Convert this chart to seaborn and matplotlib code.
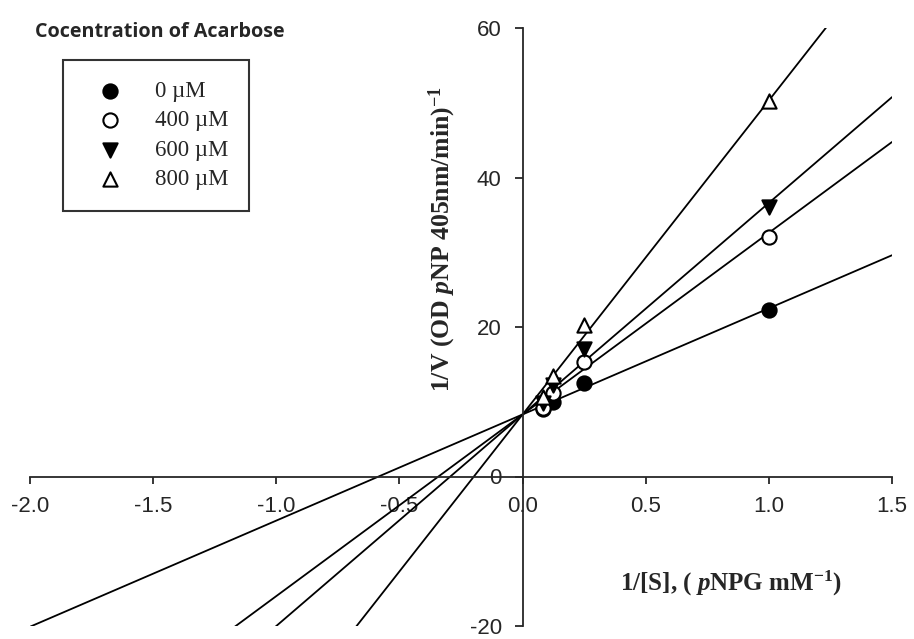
import numpy as np
import pandas as pd
import matplotlib
matplotlib.use("Agg")
import matplotlib.pyplot as plt
import seaborn as sns

# dati (Lineweaver-Burk)
inv_s = [0.083, 0.125, 0.25, 1.0]
concentrazioni = ['0 µM', '400 µM', '600 µM', '800 µM']
inv_v_0 = [9.0, 10.0, 12.5, 22.3]
inv_v_400 = [9.2, 11.2, 15.3, 32.0]
inv_v_600 = [9.8, 12.3, 17.0, 36.0]
inv_v_800 = [10.6, 13.4, 20.3, 50.3]

# parametri delle rette (intercetta comune, pendenze)
intercetta = 8.3
pendenze = [14.2, 24.3, 28.3, 42.0]

x_ticks = [-2.0, -1.5, -1.0, -0.5, 0.0, 0.5, 1.0, 1.5]
y_ticks = [-20, 0, 20, 40, 60]

sns.set_style('ticks')
plt.rcParams['axes.unicode_minus'] = False
plt.rcParams['mathtext.fontset'] = 'custom'
plt.rcParams['mathtext.rm'] = 'Liberation Serif:bold'
plt.rcParams['mathtext.it'] = 'Liberation Serif:italic:bold'
plt.rcParams['mathtext.bf'] = 'Liberation Serif:bold'

df = pd.DataFrame({
    'inv_s': inv_s * 4,
    'inv_v': inv_v_0 + inv_v_400 + inv_v_600 + inv_v_800,
    'conc': np.repeat(concentrazioni, len(inv_s)),
})

fig = plt.figure(figsize=(9.14, 6.39), dpi=100)
ax = fig.add_axes([30 / 914, 1 - 626 / 639, 862 / 914, 598 / 639])

xr = np.array([x_ticks[0], x_ticks[-1]])
for b in pendenze:
    ax.plot(xr, intercetta + b * xr, color='black', lw=1.3, zorder=1)

markers = {'0 µM': 'o', '400 µM': 'o', '600 µM': 'v', '800 µM': '^'}
facce = {'0 µM': 'black', '400 µM': 'white', '600 µM': 'black', '800 µM': 'white'}
for c in concentrazioni:
    sub = df[df['conc'] == c]
    sns.scatterplot(data=sub, x='inv_s', y='inv_v', ax=ax, marker=markers[c],
                    s=105, color=facce[c], edgecolor='black', linewidth=1.5,
                    label=c, zorder=3)

ax.set_xlim(x_ticks[0], x_ticks[-1])
ax.set_ylim(y_ticks[0], y_ticks[-1])
ax.set_xticks(x_ticks)
ax.set_xticklabels([f'{t:.1f}' for t in x_ticks])
ax.set_yticks(y_ticks)

ax.spines['left'].set_position(('data', 0))
ax.spines['bottom'].set_position(('data', 0))
ax.spines['right'].set_visible(False)
ax.spines['top'].set_visible(False)
for s in ['left', 'bottom']:
    ax.spines[s].set_linewidth(1.3)
ax.tick_params(axis='y', direction='out', length=6, width=1.3,
               labelsize=16, pad=9)
ax.tick_params(axis='x', direction='out', length=5, width=1.3,
               labelsize=16, pad=9)
for lab in ax.get_xticklabels() + ax.get_yticklabels():
    lab.set_fontfamily('Liberation Sans')
ax.set_xlabel('')
ax.set_ylabel('')

leg = ax.legend(loc='upper left', bbox_to_anchor=(33 / 862, 1 - 32 / 598),
                frameon=True, fancybox=False, prop={'family': 'Liberation Serif', 'size': 16.5},
                handletextpad=0.8, labelspacing=0.37, borderpad=0.9, borderaxespad=0,
                handlelength=2.3)
leg.get_frame().set_edgecolor('black')
leg.get_frame().set_linewidth(1.5)

fig.text(35 / 914, 1 - 32 / 639, 'Cocentration of Acarbose', family='Open Sans',
         fontweight='bold', fontsize=14.2, va='center', ha='left')
fig.text(442 / 914, 1 - 239 / 639, r'1/V (OD $\mathit{p}$NP 405nm/min)$^{-1}$',
         family='Liberation Serif', fontweight='bold', fontsize=18.5, rotation=90,
         va='center', ha='center')
fig.text(731 / 914, 1 - 583 / 639, r'1/[S], ( $\mathit{p}$NPG mM$^{-1}$)',
         family='Liberation Serif', fontweight='bold', fontsize=18,
         va='center', ha='center')

fig.savefig('out.png', dpi=100)
